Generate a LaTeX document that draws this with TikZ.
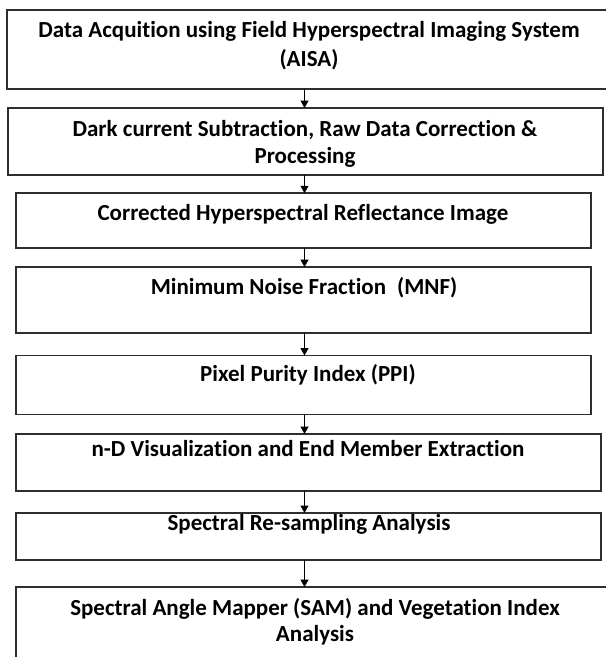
\documentclass[tikz,border=0pt]{standalone}
\usepackage{fontspec}
\setmainfont{Carlito}[Ligatures=NoCommon]
\usetikzlibrary{arrows.meta}
\definecolor{edge}{HTML}{2E2E2E}
\begin{document}
\begin{tikzpicture}[x=1pt,y=-1pt,
  box/.style={draw=edge,line width=1.9pt,inner sep=0pt,outer sep=0pt,rectangle},
  txt/.style={align=center,inner sep=0pt,anchor=base,font=\fontsize{23}{26.7}\selectfont\bfseries,text=black},
  arr/.style={draw=black,line width=1.2pt,-{Triangle[length=7.5pt,width=8pt]}}]
\clip (0,0) rectangle (606,657);
\fill[white] (0,0) rectangle (606,657);
\coordinate (ax) at (304.5,0);
\node[box,minimum width=601pt,minimum height=79pt] (b1) at (307.5,49.5) {};
\node[box,minimum width=595pt,minimum height=67pt] (b2) at (305.5,141.5) {};
\node[box,minimum width=575pt,minimum height=55pt] (b3) at (303.5,220.75) {};
\node[box,minimum width=575pt,minimum height=66pt] (b4) at (303.5,300) {};
\node[box,minimum width=575pt,minimum height=59pt] (b5) at (303.5,385) {};
\node[box,minimum width=585pt,minimum height=57pt] (b6) at (308.5,462.5) {};
\node[box,minimum width=585pt,minimum height=47pt] (b7) at (308.5,536.5) {};
\node[box,minimum width=598pt,minimum height=83pt] (b8) at (315,628.5) {};
\node[txt,font=\fontsize{23}{29.3}\selectfont\bfseries] (t1) at (309,66.7) {Data Acquition using Field Hyperspectral Imaging System\\(AISA)};
\node[txt] (t2) at (305,163.3) {Dark current Subtraction, Raw Data Correction \&\\Processing};
\node[txt] (t3) at (303,220.7) {Corrected Hyperspectral Reflectance Image};
\node[txt] (t4) at (304,294) {Minimum Noise Fraction\hspace{0.25em} (MNF)};
\node[txt] (t5) at (308,381.7) {Pixel Purity Index (PPI)};
\node[txt] (t6) at (308,456) {n-D Visualization and End Member Extraction};
\node[txt] (t7) at (309,530) {Spectral Re-sampling Analysis};
\node[txt] (t8) at (315,641.7) {Spectral Angle Mapper (SAM) and Vegetation Index\\Analysis};
\draw[arr] (b1.south -| ax) -- (b2.north -| ax);
\draw[arr] (b2.south -| ax) -- (b3.north -| ax);
\draw[arr] (b3.south -| ax) -- (b4.north -| ax);
\draw[arr] (b4.south -| ax) -- (b5.north -| ax);
\draw[arr] (b5.south -| ax) -- (b6.north -| ax);
\draw[arr] (b6.south -| ax) -- (b7.north -| ax);
\draw[arr] (b7.south -| ax) -- (b8.north -| ax);
\end{tikzpicture}
\end{document}
